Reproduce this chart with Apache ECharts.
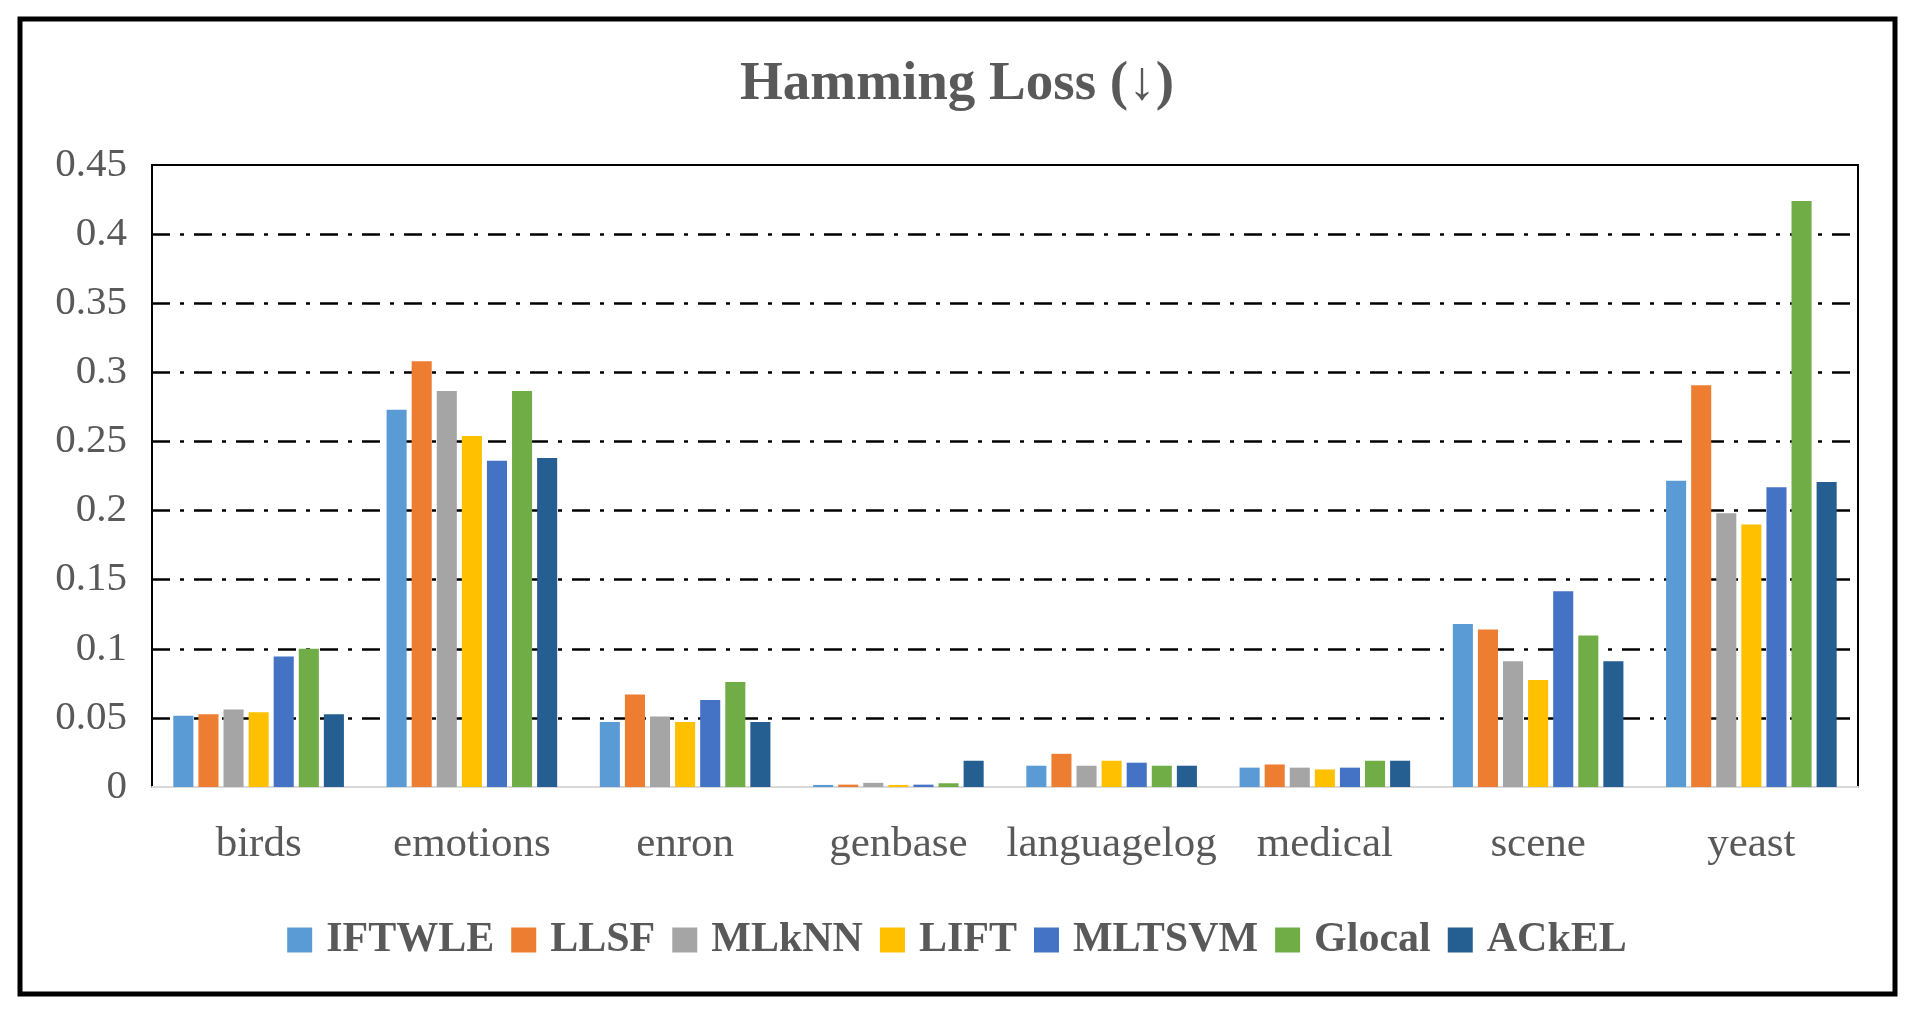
<!DOCTYPE html>
<html>
<head>
<meta charset="utf-8">
<script src="https://cdn.jsdelivr.net/npm/echarts@6/dist/echarts.min.js"></script>
<style>
html,body{margin:0;padding:0;background:#fff;}
#chart{width:1914px;height:1014px;}
</style>
</head>
<body>
<div id="chart"></div>
<script>
const categories = ['birds','emotions','enron','genbase','languagelog','medical','scene','yeast'];
const seriesNames = ['IFTWLE','LLSF','MLkNN','LIFT','MLTSVM','Glocal','ACkEL'];
const IFTWLE = [0.0516,0.273,0.047,0.0015,0.0154,0.014,0.118,0.2216];
const LLSF   = [0.0526,0.308,0.067,0.0017,0.024,0.0163,0.114,0.2907];
const MLkNN  = [0.056,0.2865,0.051,0.003,0.0154,0.014,0.091,0.198];
const LIFT   = [0.054,0.254,0.047,0.0015,0.019,0.0127,0.0775,0.190];
const MLTSVM = [0.0945,0.236,0.063,0.0017,0.0176,0.014,0.1417,0.2168];
const Glocal = [0.100,0.2865,0.076,0.0027,0.0154,0.019,0.1096,0.424];
const ACkEL  = [0.0526,0.238,0.047,0.019,0.0154,0.019,0.091,0.2207];
const colors = ['#5B9BD5','#ED7D31','#A5A5A5','#FFC000','#4472C4','#70AD47','#255E91'];
const yTicks = {min:0, max:0.45, interval:0.05};
const titleText = 'Hamming Loss (\u2193)';

const values = [IFTWLE, LLSF, MLkNN, LIFT, MLTSVM, Glocal, ACkEL];
const serif = "'Liberation Serif','Times New Roman',serif";
const chart = echarts.init(document.getElementById('chart'));
const dashDot = [18, 10, 4, 10];
chart.setOption({
  animation:false,
  color: colors,
  title:{text:titleText,left:'center',top:52,
    textStyle:{fontFamily:serif,fontSize:55,fontWeight:'bold',color:'#595959'}},
  legend:{top:914,left:'center',itemWidth:25,itemHeight:25,itemGap:17,
    icon:'rect',
    textStyle:{fontFamily:serif,fontSize:42,fontWeight:'bold',color:'#595959',padding:[0,0,0,9]},
    data:seriesNames},
  grid:{left:152,right:56,top:165,bottom:227},
  xAxis:[{type:'category',data:categories,
    axisLine:{show:true,onZero:false,lineStyle:{color:'#D9D9D9',width:2}},
    axisTick:{show:false},
    axisLabel:{interval:0,fontFamily:serif,fontSize:43,color:'#595959',margin:36}},
    {type:'category',position:'top',data:categories,
    axisLine:{show:true,onZero:false,lineStyle:{color:'#000',width:2}},axisTick:{show:false},axisLabel:{show:false}}],
  yAxis:[{type:'value',min:yTicks.min,max:yTicks.max,interval:yTicks.interval,
    axisLine:{show:true,onZero:false,lineStyle:{color:'#000',width:2}},
    axisTick:{show:false},
    axisLabel:{fontFamily:serif,fontSize:41,color:'#595959',margin:25,
      formatter:v=>String(+v.toFixed(2))},
    splitLine:{show:true,showMinLine:false,showMaxLine:false,
      lineStyle:{color:'#000',width:2.5,type:dashDot}}},
    {type:'value',position:'right',min:yTicks.min,max:yTicks.max,interval:yTicks.interval,
    axisLine:{show:true,onZero:false,lineStyle:{color:'#000',width:2}},axisTick:{show:false},
    axisLabel:{show:false},splitLine:{show:false}}],
  graphic:[{type:'rect',shape:{x:20,y:19,width:1875,height:975},
    style:{fill:'none',stroke:'#000',lineWidth:5},z:100}],
  series: seriesNames.map((n,i)=>({name:n,type:'bar',data:values[i],
    barGap:'25%',barCategoryGap:'20%',itemStyle:{color:colors[i]}}))
});
</script>
</body>
</html>
